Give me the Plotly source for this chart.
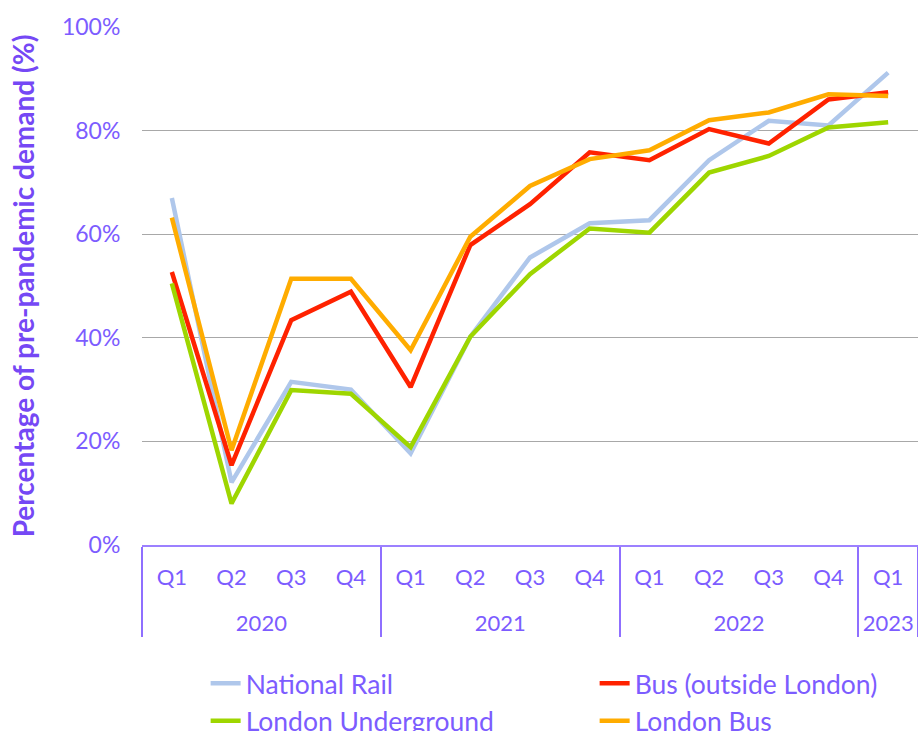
import plotly.graph_objects as go

# Quarter / year categories (year labels start with a blank line so the
# year row sits lower beneath the quarters)
years = ["2020"] * 4 + ["2021"] * 4 + ["2022"] * 4 + ["2023"]
quarters = ["Q1", "Q2", "Q3", "Q4"] * 3 + ["Q1"]
year_labels = ["<br>" + y for y in years]

# Demand as a percentage of pre-pandemic levels
national_rail = [67.0, 12.1, 31.5, 30.0, 17.7, 40.2, 55.5, 62.1, 62.7, 74.3, 81.9, 81.0, 91.2]
bus_outside_london = [52.7, 15.4, 43.4, 48.9, 30.5, 57.9, 65.8, 75.8, 74.3, 80.3, 77.5, 86.0, 87.4]
london_underground = [50.5, 8.0, 29.9, 29.2, 18.9, 40.2, 52.3, 61.1, 60.3, 71.9, 75.1, 80.6, 81.6]
london_bus = [63.2, 18.3, 51.4, 51.4, 37.6, 59.5, 69.3, 74.5, 76.2, 82.0, 83.5, 87.0, 86.7]

series = [
    ("National Rail", national_rail, "#AFC7EB"),
    ("Bus (outside London)", bus_outside_london, "#FF2200"),
    ("London Underground", london_underground, "#9ED600"),
    ("London Bus", london_bus, "#FFAC00"),
]

TEXT = "#7C5CFF"
FONT = "Lato"

fig = go.Figure()
for name, vals, color in series:
    fig.add_trace(go.Scatter(
        x=[year_labels, quarters], y=vals, name=name, mode="lines",
        line=dict(color=color, width=4.5),
    ))

fig.update_layout(
    width=918, height=731,
    margin=dict(l=142, r=0, t=27, b=186),
    paper_bgcolor="white", plot_bgcolor="white",
    font=dict(family=FONT, color=TEXT, size=22),
    showlegend=True,
    legend=dict(
        orientation="h", xref="container", yref="container",
        x=0.224, y=0.0977, xanchor="left", yanchor="top",
        entrywidth=344, entrywidthmode="pixels", itemwidth=30,
        font=dict(size=26.5, color=TEXT), tracegroupgap=0,
        bgcolor="rgba(0,0,0,0)",
    ),
)

fig.update_xaxes(
    type="multicategory", range=[-0.5, 12.5], automargin=False,
    showline=True, linecolor="#9C80FF", linewidth=1.5,
    showgrid=False, ticks="", ticklabelstandoff=12,
    showdividers=True, dividercolor="#8F6FFF", dividerwidth=1.5,
    tickfont=dict(size=22, color=TEXT, family=FONT),
)
fig.update_yaxes(
    range=[0, 100], dtick=20, ticksuffix="%", automargin=False,
    showgrid=True, gridcolor="#A8A8A8", gridwidth=1,
    zeroline=False, showline=False,
    ticks="outside", ticklen=16, tickcolor="rgba(0,0,0,0)",
    tickfont=dict(size=23, color=TEXT, family=FONT),
    title=dict(text="<b>Percentage of pre-pandemic demand (%)</b>",
               font=dict(size=28, color="#7548F5", family=FONT), standoff=19),
)

fig.write_html("out.html")
